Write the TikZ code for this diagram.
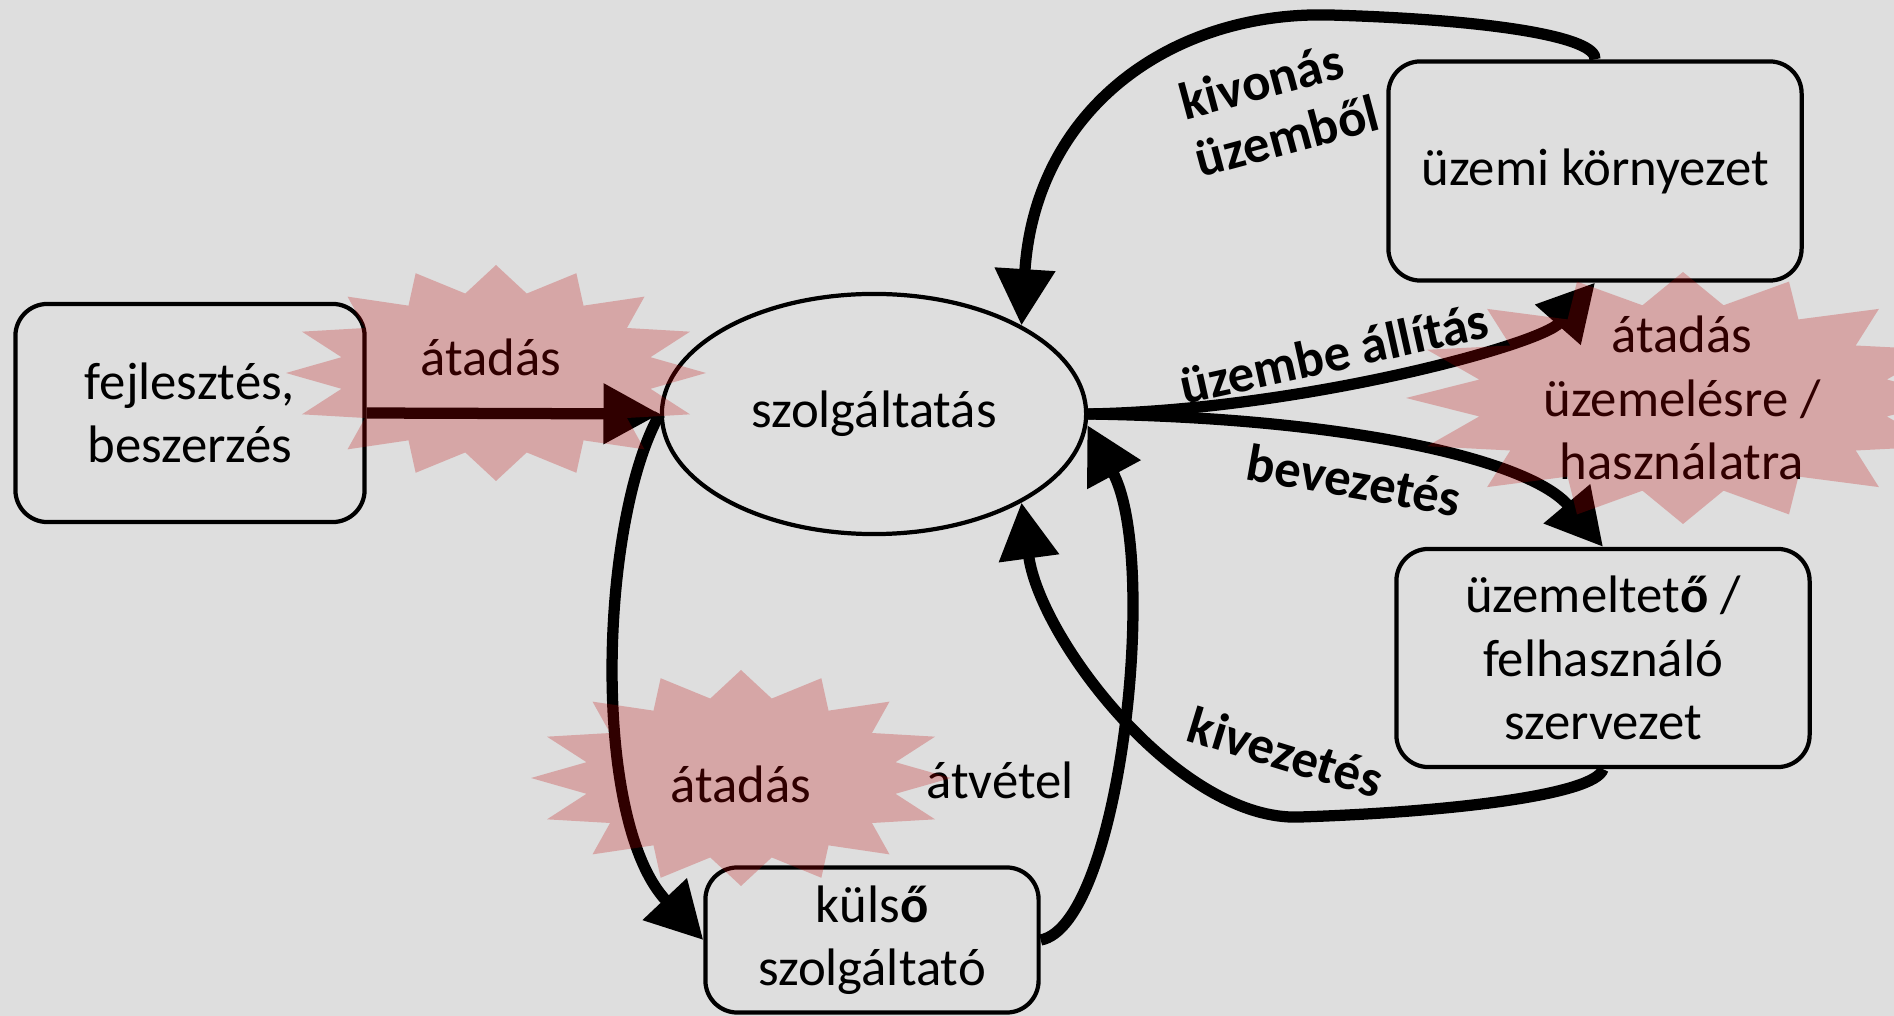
\documentclass[tikz,border=0pt]{standalone}
\usepackage{fontspec}
\setmainfont{Carlito}
\usetikzlibrary{arrows.meta,shapes.geometric}
\definecolor{bg}{RGB}{222,222,222}
\definecolor{burstred}{RGB}{192,0,0}
% elliptical 16-point burst: centre x, centre y, outer x radius, outer y radius
\newcommand\burstshape[4]{%
  \fill[burst] plot[samples at={0,1,...,31}]
    ({#1+(0.875+0.125*cos(\x*180))*#3*cos(\x*11.25)},
     {#2+(0.875+0.125*cos(\x*180))*#4*sin(\x*11.25)}) -- cycle;}
\begin{document}
\begin{tikzpicture}[x=0.01cm, y=-0.01cm,
  every node/.style={font=\fontsize{15}{18}\selectfont, inner sep=0pt},
  box/.style={draw, line width=1.2pt, rounded corners=0.32cm, align=center},
  lbl/.style={font=\fontsize{15}{17}\selectfont\bfseries, align=left},
  conn/.style={line width=3.2pt, -{Triangle[length=16pt,width=16.5pt]}},
  burst/.style={fill=burstred, fill opacity=0.25}
]
\fill[bg] (0,0) rectangle (1894,1016);
\clip (0,0) rectangle (1894,1016);

% boxes and the central service
\node[box, minimum width=3.49cm, minimum height=2.18cm] (dev) at (190,413) {fejlesztés,\\beszerzés};
\node[box, minimum width=4.13cm, minimum height=2.19cm] (env) at (1595,171) {üzemi környezet};
\node[box, minimum width=4.13cm, minimum height=2.18cm] (org) at (1603,658) {üzemeltet\textbf{ő} /\\felhasználó\\szervezet};
\node[box, minimum width=3.33cm, minimum height=1.45cm] (ext) at (872,940) {küls\textbf{ő}\\szolgáltató};
\node[draw, ellipse, line width=1.2pt, minimum width=4.24cm, minimum height=2.40cm] (svc) at (874,414) {szolgáltatás};

% texts that sit under the bursts
\node (t1) at (491,357) {átadás};
\node[align=center] (t2) at (1682,398) {átadás\\üzemelésre /\\használatra};
\node (t3) at (741,784) {átadás};
\node (acc) at (1000,780) {átvétel};

% connectors
\draw[conn] (dev.east) -- (svc.west);
\draw[conn] (env.north) .. controls (1597,38) and (1500,20) .. (1330,15)
            .. controls (1170,11) and (1035,110) .. (svc.31);
\draw[conn] (svc.east) .. controls (1300,410) and (1540,345) .. (env.south);
\draw[conn] (svc.east) .. controls (1350,418) and (1530,460) .. (org.north);
\draw[conn] (org.south) .. controls (1595,795) and (1450,812) .. (1300,817)
            .. controls (1180,822) and (1040,640) .. (svc.329);
\draw[conn] (svc.west) .. controls (600,520) and (590,820) .. (ext.west);
\draw[conn] (ext.east) .. controls (1120,925) and (1160,560) .. (svc.-3);

% connector labels
\node[lbl, rotate=15] (lwd) at (1279,107) {kivonás\\üzemből};
\node[lbl, rotate=12.5] (lop) at (1334,353) {üzembe állítás};
\node[lbl, rotate=-10] (lin) at (1354,480) {bevezetés};
\node[lbl, rotate=-17] (lout) at (1286,752) {kivezetés};

% translucent bursts on top
\burstshape{496}{373}{210}{108}
\burstshape{1683}{398}{277}{126}
\burstshape{741}{778}{210}{108}
\end{tikzpicture}
\end{document}
